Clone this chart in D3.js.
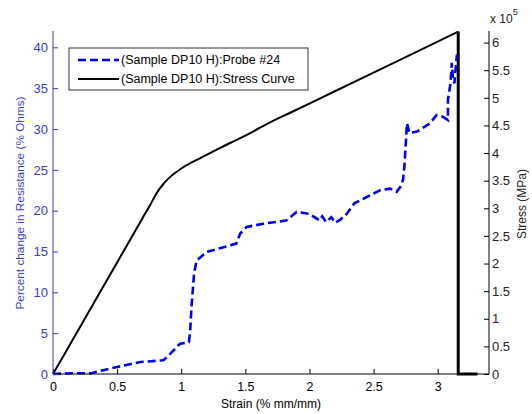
<!DOCTYPE html>
<html>
<head>
<meta charset="utf-8">
<script src="https://cdn.jsdelivr.net/npm/d3@7"></script>
<style>
  body { margin: 0; background: #fff; }
  svg { font-family: "Liberation Sans", Arial, sans-serif; }
</style>
</head>
<body>
<div id="chart"></div>
<script>
// strain (% mm/mm) vs percent change in resistance, probe #24
const probeStrain = [0, 0.15, 0.3, 0.4, 0.5, 0.68, 0.86, 0.89, 0.94, 0.99, 1.06, 1.07, 1.08, 1.10, 1.12, 1.20, 1.36, 1.43, 1.46, 1.51, 1.64, 1.82, 1.90, 2.00, 2.08, 2.10, 2.13, 2.17, 2.20, 2.24, 2.29, 2.35, 2.45, 2.55, 2.63, 2.68, 2.71, 2.73, 2.74, 2.75, 2.76, 2.78, 2.84, 2.94, 2.99, 3.04, 3.08, 3.08, 3.10, 3.11, 3.12, 3.13, 3.15];
const probeValue  = [0, 0.1, 0.1, 0.5, 0.86, 1.47, 1.68, 2.08, 2.9, 3.7, 3.9, 5.35, 8.2, 12.3, 13.9, 14.95, 15.65, 15.97, 17.2, 18.0, 18.4, 18.8, 19.85, 19.6, 18.8, 19.3, 18.6, 19.2, 18.5, 18.9, 19.6, 20.9, 21.7, 22.5, 22.7, 22.3, 22.95, 23.8, 25.4, 27.9, 30.7, 29.5, 29.7, 30.7, 31.7, 31.5, 31.1, 33.6, 35.6, 38.1, 36.0, 35.6, 39.1];

// strain vs stress (x 10^5 MPa)
const stressStrain = [0, 0.25, 0.5, 0.7, 0.76, 0.81, 0.86, 0.91, 1.02, 1.15, 1.30, 1.46, 1.56, 1.67, 1.85, 2.19, 2.71, 3.16, 3.16, 3.31];
const stressValue  = [0, 1.01, 2.02, 2.83, 3.07, 3.28, 3.44, 3.56, 3.75, 3.91, 4.09, 4.27, 4.39, 4.53, 4.73, 5.11, 5.69, 6.2, 0, 0];

const xTicks = [0, 0.5, 1, 1.5, 2, 2.5, 3];
const leftTicks = [0, 5, 10, 15, 20, 25, 30, 35, 40];
const rightTicks = [0, 0.5, 1, 1.5, 2, 2.5, 3, 3.5, 4, 4.5, 5, 5.5, 6];

const seriesNames = ["(Sample DP10 H):Probe #24", "(Sample DP10 H):Stress Curve"];

const W = 532, H = 414;
const margin = {top: 31, right: 43, bottom: 40, left: 53};
const blue = "#0000ee";
const axisBlue = "#3b3bc8";

const svg = d3.select("#chart").append("svg")
  .attr("width", W).attr("height", H);

const x = d3.scaleLinear().domain([0, 3.4]).range([margin.left, W - margin.right]);
const yL = d3.scaleLinear().domain([0, 42]).range([H - margin.bottom, margin.top]);
const yR = d3.scaleLinear().domain([0, 6.21]).range([H - margin.bottom, margin.top]);

// data lines
const probe = probeStrain.map((s, i) => [s, probeValue[i]]);
const stress = stressStrain.map((s, i) => [s, stressValue[i]]);
const nRise = 18; // points up to the peak

svg.append("path")
  .datum(stress.slice(0, nRise))
  .attr("fill", "none")
  .attr("stroke", "#000")
  .attr("stroke-width", 2)
  .attr("stroke-linejoin", "round")
  .attr("d", d3.line().curve(d3.curveMonotoneX).x(d => x(d[0])).y(d => yR(d[1])));

svg.append("path")
  .datum(stress.slice(nRise - 1))
  .attr("fill", "none")
  .attr("stroke", "#000")
  .attr("stroke-width", 3)
  .attr("d", d3.line().x(d => x(d[0])).y(d => yR(d[1])));

svg.append("path")
  .datum(probe)
  .attr("fill", "none")
  .attr("stroke", blue)
  .attr("stroke-width", 2.6)
  .attr("stroke-dasharray", "8,4")
  .attr("d", d3.line().x(d => x(d[0])).y(d => yL(d[1])));

// x axis
const xAxis = svg.append("g")
  .attr("transform", `translate(0,${H - margin.bottom})`)
  .call(d3.axisBottom(x).tickValues(xTicks).tickSize(-5).tickPadding(8).tickFormat(d3.format("")));
xAxis.select(".domain").attr("stroke", "#000").attr("d", `M${margin.left},0H${W - margin.right}`);
xAxis.selectAll("text").attr("font-size", 12.5).attr("fill", "#000").style("font-family", "inherit");

// left axis
const lAxis = svg.append("g")
  .attr("transform", `translate(${margin.left},0)`)
  .call(d3.axisLeft(yL).tickValues(leftTicks).tickSize(-5).tickPadding(5));
lAxis.select(".domain").attr("stroke", axisBlue).attr("d", `M0,${yL(0)}V${margin.top}`);
lAxis.selectAll("line").attr("stroke", axisBlue);
lAxis.selectAll("text").attr("font-size", 13).attr("fill", axisBlue).style("font-family", "inherit");

// right axis
const rAxis = svg.append("g")
  .attr("transform", `translate(${W - margin.right},0)`)
  .call(d3.axisRight(yR).tickValues(rightTicks).tickSize(-5).tickPadding(3).tickFormat(d3.format("")));
rAxis.select(".domain").attr("stroke", "#000").attr("d", `M0,${yR(0)}V${margin.top}`);
rAxis.selectAll("text").attr("font-size", 13).attr("fill", "#222").style("font-family", "inherit");

// axis labels
svg.append("text")
  .attr("x", x(1.7)).attr("y", 408)
  .attr("text-anchor", "middle")
  .attr("font-size", 12)
  .text("Strain (% mm/mm)");

svg.append("text")
  .attr("transform", "translate(24,203) rotate(-90)")
  .attr("text-anchor", "middle")
  .attr("font-size", 11.8)
  .attr("fill", axisBlue)
  .text("Percent change in Resistance (% Ohms)");

svg.append("text")
  .attr("transform", "translate(526,204) rotate(-90)")
  .attr("text-anchor", "middle")
  .attr("font-size", 12)
  .attr("fill", "#222")
  .text("Stress (MPa)");

const expo = svg.append("text")
  .attr("x", 490).attr("y", 23)
  .attr("font-size", 12)
  .attr("fill", "#222");
expo.append("tspan").text("x 10");
expo.append("tspan").attr("dy", -8).attr("font-size", 9).text("5");

// legend
const legend = svg.append("g").attr("transform", "translate(69,48)");
legend.append("rect")
  .attr("width", 239).attr("height", 42)
  .attr("fill", "#fff").attr("stroke", "#333").attr("stroke-width", 1);

const styles = [
  {stroke: blue, dash: "8,4", width: 2.6},
  {stroke: "#000", dash: null, width: 2}
];
seriesNames.forEach((name, i) => {
  const g = legend.append("g").attr("transform", `translate(0,${12 + i * 19})`);
  g.append("line")
    .attr("x1", 9).attr("x2", 50)
    .attr("stroke", styles[i].stroke)
    .attr("stroke-width", styles[i].width)
    .attr("stroke-dasharray", styles[i].dash);
  g.append("text")
    .attr("x", 52).attr("dy", "0.35em")
    .attr("font-size", 12.5)
    .text(name);
});
</script>
</body>
</html>
